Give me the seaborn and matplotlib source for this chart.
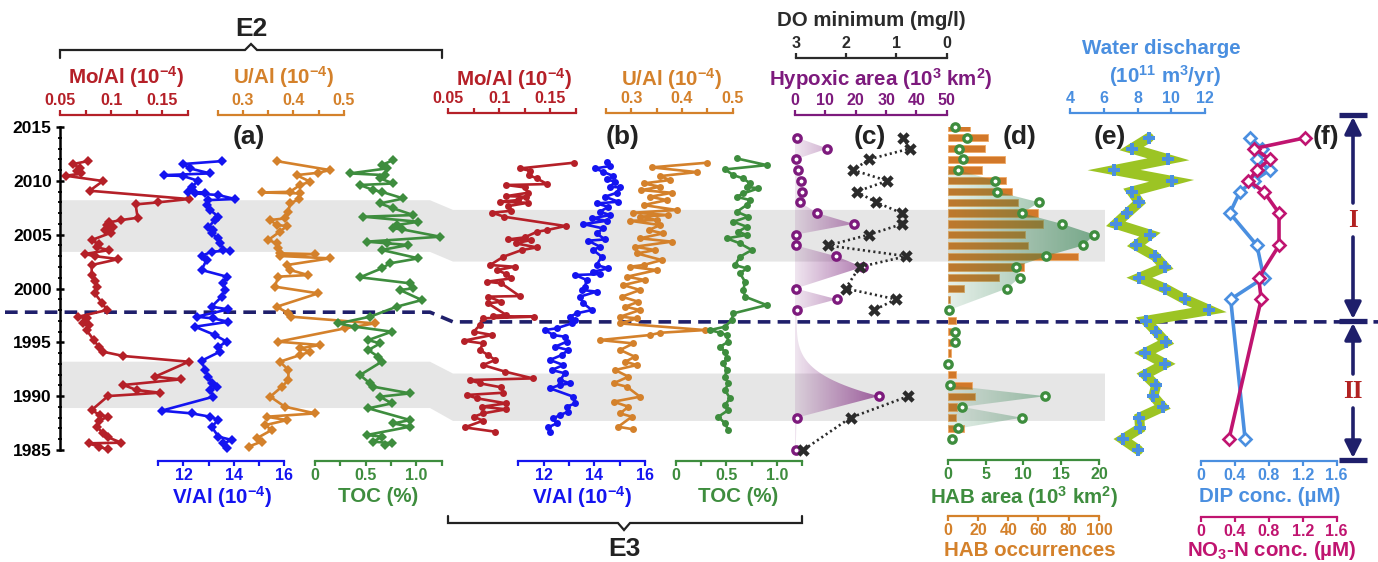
import numpy as np
import matplotlib
matplotlib.use("Agg")
import matplotlib.pyplot as plt
import seaborn as sns
from matplotlib.patches import Polygon
from matplotlib.colors import LinearSegmentedColormap

# ======================= DATA =======================
# Panel (a), core E2: (year, value)
mo_a = [(2011.83, 0.077), (2011.56, 0.063), (2011.15, 0.070), (2010.90, 0.067), (2010.69, 0.071),
        (2010.47, 0.056), (2009.98, 0.092), (2009.08, 0.079), (2008.31, 0.176), (2008.00, 0.146),
        (2007.81, 0.124), (2006.57, 0.126), (2006.36, 0.110), (2006.14, 0.098), (2005.89, 0.096),
        (2005.68, 0.102), (2005.43, 0.094), (2005.18, 0.100), (2004.50, 0.081), (2004.13, 0.088),
        (2003.82, 0.086), (2003.57, 0.098), (2003.20, 0.074), (2003.01, 0.084), (2002.73, 0.107),
        (2002.18, 0.081), (2001.25, 0.081), (2000.69, 0.084), (2000.17, 0.086), (1999.55, 0.084),
        (1998.68, 0.091), (1998.00, 0.096), (1997.38, 0.068), (1997.22, 0.076), (1996.76, 0.073),
        (1996.60, 0.078), (1996.14, 0.076), (1995.21, 0.083), (1994.59, 0.088), (1994.13, 0.092),
        (1993.73, 0.112), (1993.20, 0.176), (1991.81, 0.143), (1991.56, 0.168), (1991.04, 0.112),
        (1990.57, 0.125), (1990.32, 0.148), (1990.01, 0.097), (1988.71, 0.081), (1988.25, 0.089),
        (1988.09, 0.097), (1987.72, 0.088), (1987.17, 0.086), (1986.55, 0.092), (1986.18, 0.097),
        (1985.68, 0.110), (1985.62, 0.078), (1985.31, 0.088), (1985.06, 0.097)]
v_a = [(2011.83, 13.52), (2011.56, 11.99), (2011.15, 12.26), (2010.69, 13.06), (2010.53, 11.24),
       (2010.44, 11.99), (2010.00, 12.59), (2009.45, 12.33), (2008.98, 12.19), (2008.89, 12.86),
       (2008.83, 12.46), (2008.68, 13.39), (2008.31, 14.05), (2008.21, 12.99), (2007.75, 12.92),
       (2007.29, 13.06), (2006.67, 13.39), (2006.36, 13.25), (2005.68, 12.99), (2005.43, 13.19),
       (2005.12, 13.12), (2004.66, 13.39), (2004.20, 13.45), (2003.62, 13.59), (2003.52, 13.85),
       (2003.42, 13.12), (2003.02, 12.72), (2002.65, 12.92), (2001.72, 12.72), (2001.10, 13.72),
       (2000.48, 13.59), (1999.86, 13.65), (1999.24, 13.52), (1998.31, 13.12), (1998.06, 13.78),
       (1997.38, 12.52), (1997.22, 13.19), (1996.91, 13.78), (1996.45, 12.46), (1995.68, 13.25),
       (1995.06, 13.72), (1994.59, 13.39), (1994.13, 13.45), (1993.29, 12.72), (1992.43, 12.86),
       (1991.81, 12.99), (1991.19, 13.12), (1990.88, 13.32), (1990.57, 13.06), (1989.95, 13.19),
       (1988.65, 11.13), (1988.40, 12.33), (1988.09, 13.06), (1987.78, 13.39), (1987.17, 13.12),
       (1986.24, 13.39), (1985.93, 13.92), (1985.62, 13.59), (1985.15, 13.72)]
u_a = [(2011.83, 0.367), (2011.00, 0.472), (2010.75, 0.449), (2010.53, 0.406), (2009.92, 0.433),
       (2009.61, 0.413), (2008.98, 0.393), (2008.92, 0.337), (2008.83, 0.413), (2008.27, 0.410),
       (2007.90, 0.393), (2007.13, 0.390), (2006.51, 0.383), (2006.36, 0.354), (2005.89, 0.367),
       (2005.80, 0.387), (2005.28, 0.373), (2004.50, 0.350), (2004.20, 0.367), (2003.73, 0.370),
       (2003.27, 0.373), (2003.20, 0.443), (2003.02, 0.373), (2002.80, 0.472), (2002.18, 0.387),
       (2001.72, 0.393), (2001.25, 0.429), (2001.10, 0.370), (2000.17, 0.363), (1999.55, 0.449),
       (1998.31, 0.367), (1997.69, 0.390), (1997.38, 0.396), (1996.76, 0.561), (1996.30, 0.502),
       (1995.06, 0.370), (1994.75, 0.452), (1994.44, 0.413), (1994.13, 0.433), (1993.82, 0.413),
       (1993.20, 0.373), (1992.43, 0.390), (1991.50, 0.390), (1990.88, 0.377), (1989.95, 0.354),
       (1989.02, 0.383), (1988.40, 0.443), (1988.09, 0.347), (1987.78, 0.387), (1987.31, 0.344),
       (1986.86, 0.357), (1986.08, 0.327), (1985.78, 0.337), (1985.31, 0.311)]
toc_a = [(2011.93, 0.773), (2011.47, 0.658), (2011.15, 0.707), (2010.69, 0.345), (2010.53, 0.691),
         (2010.22, 0.642), (2009.76, 0.773), (2009.61, 0.444), (2009.14, 0.576), (2008.98, 0.658),
         (2008.36, 0.872), (2007.90, 0.642), (2007.44, 0.773), (2006.82, 0.971), (2006.67, 0.477),
         (2006.20, 1.020), (2005.89, 0.806), (2005.58, 0.773), (2005.50, 0.856), (2004.81, 1.234),
         (2004.35, 0.510), (2004.20, 0.707), (2004.04, 0.921), (2003.58, 0.658), (2002.80, 1.020),
         (2002.34, 0.740), (2001.87, 0.658), (2001.04, 0.444), (2000.48, 0.938), (2000.02, 0.971),
         (1999.86, 0.839), (1998.93, 1.053), (1998.31, 0.806), (1997.38, 0.543), (1996.76, 0.230),
         (1996.45, 0.395), (1995.99, 0.757), (1995.21, 0.526), (1994.90, 0.642), (1994.28, 0.526),
         (1993.66, 0.625), (1993.20, 0.658), (1991.96, 0.444), (1991.19, 0.543), (1990.88, 0.576),
         (1990.26, 0.938), (1989.95, 0.642), (1989.33, 0.757), (1988.87, 0.526), (1987.78, 0.938),
         (1987.47, 0.773), (1987.17, 0.938), (1986.39, 0.510), (1986.24, 0.658), (1985.78, 0.576),
         (1985.62, 0.757), (1985.47, 0.691)]

# Panel (b), core E3 (placed on the same vertical scale)
mo_b = [(2011.68, 0.173), (2011.15, 0.120), (2010.94, 0.130), (2010.53, 0.129), (2010.22, 0.137),
        (2009.70, 0.147), (2009.61, 0.107), (2009.39, 0.125), (2008.89, 0.128), (2008.58, 0.107),
        (2008.52, 0.126), (2008.21, 0.118), (2008.06, 0.101), (2007.96, 0.128), (2007.66, 0.109),
        (2007.22, 0.112), (2007.04, 0.093), (2006.66, 0.105), (2005.80, 0.165), (2005.43, 0.147),
        (2005.27, 0.137), (2004.75, 0.125), (2004.56, 0.109), (2004.50, 0.131), (2004.19, 0.116),
        (2003.82, 0.137), (2003.57, 0.122), (2002.95, 0.104), (2002.18, 0.091), (2002.02, 0.115),
        (2001.71, 0.098), (2001.34, 0.107), (2000.94, 0.112), (2000.63, 0.088), (2000.48, 0.102),
        (1999.30, 0.120), (1999.24, 0.089), (1998.77, 0.102), (1998.62, 0.089), (1997.53, 0.107),
        (1997.44, 0.094), (1997.38, 0.134), (1997.23, 0.084), (1996.61, 0.081), (1995.99, 0.075),
        (1995.68, 0.093), (1995.15, 0.065), (1994.90, 0.084), (1994.29, 0.081), (1993.82, 0.089),
        (1993.36, 0.096), (1992.89, 0.084), (1992.27, 0.106), (1991.65, 0.133), (1991.50, 0.071),
        (1991.19, 0.081), (1990.82, 0.102), (1990.32, 0.104), (1990.11, 0.068), (1989.80, 0.078),
        (1989.33, 0.107), (1989.02, 0.083), (1988.78, 0.107), (1988.40, 0.084), (1988.09, 0.075),
        (1987.72, 0.084), (1987.10, 0.066), (1986.70, 0.096)]
v_b = [(2011.77, 14.49), (2011.37, 14.62), (2011.15, 14.03), (2010.84, 14.35), (2010.44, 14.75),
       (2010.13, 14.49), (2009.92, 14.82), (2009.45, 14.62), (2009.39, 15.01), (2008.89, 14.88),
       (2008.52, 14.42), (2008.06, 14.95), (2007.90, 14.09), (2007.59, 14.55), (2007.13, 14.22),
       (2006.82, 14.62), (2006.51, 13.90), (2006.29, 14.49), (2005.98, 13.57), (2005.58, 14.35),
       (2005.12, 14.09), (2004.56, 14.42), (2004.44, 13.76), (2003.88, 14.22), (2003.57, 13.96),
       (2002.95, 14.29), (2002.18, 14.09), (2001.87, 14.55), (2001.56, 13.96), (2001.34, 14.22),
       (2001.25, 13.24), (2000.79, 13.70), (2000.17, 13.63), (1999.86, 13.50), (1999.71, 14.09),
       (1999.24, 13.43), (1998.62, 13.57), (1998.00, 13.90), (1997.69, 13.30), (1997.38, 13.04),
       (1997.07, 13.24), (1996.76, 13.11), (1996.30, 12.51), (1996.14, 12.05), (1995.68, 12.38),
       (1995.52, 12.84), (1995.06, 12.91), (1994.59, 12.45), (1994.29, 12.97), (1993.82, 12.71),
       (1993.36, 12.25), (1992.89, 12.78), (1992.43, 12.32), (1992.12, 12.84), (1991.50, 12.65),
       (1991.19, 13.04), (1991.04, 12.65), (1990.73, 12.25), (1989.95, 13.17), (1989.33, 13.24),
       (1989.02, 12.91), (1988.56, 12.97), (1988.25, 12.65), (1987.94, 12.38), (1987.47, 12.51),
       (1987.10, 12.18), (1986.70, 12.25)]
u_b = [(2011.68, 0.449), (2011.25, 0.340), (2010.81, 0.429), (2010.44, 0.357), (2010.07, 0.376),
       (2009.76, 0.324), (2009.45, 0.357), (2009.14, 0.320), (2008.89, 0.380), (2008.52, 0.337),
       (2008.21, 0.370), (2007.75, 0.324), (2007.29, 0.390), (2007.04, 0.304), (2006.82, 0.373),
       (2006.67, 0.317), (2006.36, 0.350), (2006.29, 0.297), (2005.89, 0.357), (2005.43, 0.334),
       (2005.12, 0.363), (2004.66, 0.317), (2004.35, 0.380), (2003.88, 0.307), (2003.57, 0.347),
       (2003.26, 0.311), (2002.64, 0.360), (2002.18, 0.324), (2002.02, 0.297), (2001.71, 0.350),
       (2001.09, 0.291), (2000.79, 0.327), (2000.32, 0.284), (1999.86, 0.317), (1999.24, 0.281),
       (1998.77, 0.314), (1998.31, 0.288), (1998.00, 0.317), (1997.38, 0.278), (1997.23, 0.311),
       (1996.76, 0.278), (1996.14, 0.445), (1995.89, 0.357), (1995.68, 0.337), (1995.21, 0.238),
       (1994.90, 0.304), (1994.29, 0.278), (1993.66, 0.307), (1993.20, 0.288), (1992.89, 0.311),
       (1992.43, 0.268), (1991.81, 0.294), (1991.19, 0.265), (1990.88, 0.291), (1989.95, 0.317),
       (1989.49, 0.265), (1989.02, 0.294), (1988.40, 0.278), (1988.09, 0.301), (1987.16, 0.274),
       (1986.92, 0.304)]
toc_b = [(2012.08, 0.602), (2011.46, 0.900), (2011.06, 0.486), (2010.53, 0.569), (2010.22, 0.668),
         (2009.76, 0.734), (2009.45, 0.701), (2009.30, 0.817), (2008.83, 0.668), (2008.52, 0.602),
         (2008.21, 0.734), (2007.75, 0.701), (2007.13, 0.602), (2006.67, 0.718), (2006.20, 0.569),
         (2005.74, 0.701), (2005.28, 0.618), (2004.97, 0.701), (2004.66, 0.503), (2004.19, 0.635),
         (2003.57, 0.751), (2002.95, 0.635), (2002.18, 0.585), (2001.87, 0.701), (2001.40, 0.635),
         (2000.63, 0.685), (1999.86, 0.668), (1999.24, 0.685), (1998.46, 0.900), (1997.69, 0.569),
         (1997.07, 0.552), (1996.45, 0.486), (1996.14, 0.337), (1995.89, 0.437), (1995.68, 0.503),
         (1995.06, 0.519), (1994.59, 0.437), (1994.13, 0.486), (1993.51, 0.503), (1993.05, 0.470),
         (1992.43, 0.503), (1991.81, 0.486), (1991.19, 0.519), (1990.57, 0.486), (1989.80, 0.536),
         (1989.18, 0.486), (1988.71, 0.519), (1988.09, 0.420), (1987.47, 0.486), (1986.85, 0.519)]

# Panel (c): hypoxic area (10^3 km2) and DO minimum (mg/l)
hyp_years = [2014, 2013, 2012, 2011, 2010, 2009, 2008, 2007, 2006, 2005, 2004, 2003, 2002, 2000,
             1999, 1998, 1990, 1988, 1985]
hyp_area = [0.8, 10.7, 0.2, 0.9, 2.0, 2.2, 1.7, 7.4, 19.3, 0.2, 0.3, 13.5, 22.3, 0.2,
            13.8, 0.55, 27.6, 0.55, 0.2]
do_min = [0.87, 0.73, 1.54, 1.86, 1.18, 1.79, 1.40, 0.89, 0.88, 1.54, 2.36, 0.80, 1.73, 2.01,
          1.01, 1.44, 0.76, 1.91, 2.85]

# Panel (d): HAB area (10^3 km2) and HAB occurrences
hab_years = list(range(2015, 1985, -1))
hab_area = [1.0, 2.5, 1.5, 2.0, 1.4, 6.3, 6.5, 12.1, 9.8, 15.1, 19.4, 17.9, 13.0, 9.0, 9.5, 7.8,
            np.nan, 0.2, np.nan, 1.0, 0.9, np.nan, 0.1, np.nan, 0.35, 12.9, 1.9, 9.8, 1.4, 0.6]
hab_occ = [14.6, 26.7, 24.7, 37.8, 22.7, 38.6, 42.8, 46.6, 59.8, 62.7, 50.8, 52.8, 85.9, 50.7, 33.8,
           10.7, 1.5, np.nan, 5.7, 2.4, 2.4, 2.0, np.nan, 5.7, 15.9, 17.9, 6.2, 5.7, 10.6, np.nan]
hab_fill_periods = [(1998, 2011), (1987, 1991)]

# Panel (e): water discharge (10^11 m3/yr)
wd_years = list(range(2014, 1984, -1))
water = [8.68, 7.65, 9.83, 6.61, 10.02, 7.65, 8.11, 7.40, 6.71, 8.74, 7.91, 9.04, 9.63, 8.11, 9.63,
         10.81, 12.26, 8.50, 9.10, 9.69, 8.44, 9.63, 8.44, 9.10, 8.94, 9.49, 8.11, 8.15, 7.12, 8.05]

# Panel (f): DIP and NO3-N concentrations (uM)
nut_years = [2014, 2013, 2012, 2011, 2010, 2009, 2007, 2004, 2001, 1999, 1986]
dip = [0.58, 0.72, 0.66, 0.81, 0.62, 0.46, 0.34, 0.66, 0.74, 0.35, 0.52]
no3 = [1.23, 0.63, 0.81, 0.66, 0.56, 0.74, 0.92, 0.92, 0.68, 0.71, 0.33]

# shaded intervals and boundary (years), for E2 and for E3/(c)-(f)
bands_e2 = [(2003.4, 2008.2), (1988.9, 1993.2)]
bands_e3 = [(2002.5, 2007.3), (1987.7, 1992.1)]
boundary_e2, boundary_e3 = 1997.8, 1996.9

# ======================= STYLE =======================
sns.set_style("white")
plt.rcParams["font.family"] = ["Liberation Sans", "DejaVu Sans"]
plt.rcParams["font.weight"] = "bold"
plt.rcParams["mathtext.fontset"] = "custom"
plt.rcParams["mathtext.rm"] = "Liberation Sans:bold"
plt.rcParams["mathtext.it"] = "Liberation Sans:bold"
plt.rcParams["mathtext.bf"] = "Liberation Sans:bold"

RED, BLUE, ORANGE, GREEN = "#b52028", "#1414f0", "#d4812b", "#3e8d3e"
PURPLE, DARK, BAR = "#7d1a7d", "#2b2b2b", "#d2782a"
WLINE, LBLUE, MAG, NAVY = "#9cc424", "#4a8fe0", "#c01470", "#1f1f6b"

W, H = 1378, 562
Y_TOP, Y_BOT = 127, 450
fig = plt.figure(figsize=(W / 100, H / 100), dpi=100)


def fx(x):
    return x / W


def fy(y):
    return 1 - y / H


def ftext(x, y, s, **kw):
    kw.setdefault("ha", "center")
    kw.setdefault("va", "center")
    fig.text(fx(x), fy(y), s, **kw)


# background canvas (pixel coords) and a year-coordinate canvas
bg = fig.add_axes([0, 0, 1, 1])
bg.set_xlim(0, W)
bg.set_ylim(H, 0)
bg.axis("off")
yr = fig.add_axes([0, fy(Y_BOT), 1, (Y_BOT - Y_TOP) / H])
yr.set_xlim(0, W)
yr.set_ylim(1985, 2015)
yr.axis("off")

for (lo_a, hi_a), (lo_b, hi_b) in zip(bands_e2, bands_e3):
    yr.add_patch(Polygon([(60, hi_a), (430, hi_a), (453, hi_b), (1105, hi_b), (1105, lo_b),
                          (453, lo_b), (430, lo_a), (60, lo_a)], closed=True,
                         fc="#e6e6e6", ec="none", clip_on=False, zorder=0))
yr.plot([5, 430, 453, W], [boundary_e2, boundary_e2, boundary_e3, boundary_e3], color=NAVY,
        lw=2.6, dashes=(3.5, 2.0), clip_on=False, zorder=1)


def panel_ax(x0, x1, xlim):
    ax = fig.add_axes([fx(x0), fy(Y_BOT), (x1 - x0) / W, (Y_BOT - Y_TOP) / H])
    ax.patch.set_alpha(0)
    for s in ax.spines.values():
        s.set_visible(False)
    ax.tick_params(left=False, labelleft=False, right=False, labelright=False,
                   bottom=False, labelbottom=False, top=False, labeltop=False)
    ax.set_xlim(*xlim)
    ax.set_ylim(1985, 2015)
    return ax


def scale(ax, side, off_px, color, major, labels, minor=None, xlim=None, size=11.5):
    sp = ax.spines[side]
    sp.set_visible(True)
    sp.set_color(color)
    sp.set_linewidth(1.6)
    sp.set_position(("outward", off_px * 0.72))
    ax.set_xticks(major)
    ax.set_xticklabels(labels)
    if minor is not None:
        ax.set_xticks(minor, minor=True)
    other = "bottom" if side == "top" else "top"
    ax.tick_params(axis="x", which="both", direction="out", length=3.6, width=1.6, color=color,
                   labelcolor=color, labelsize=size, pad=1.5,
                   **{side: True, "label" + side: True, other: False, "label" + other: False})
    if xlim is not None:
        ax.set_xlim(*xlim)
    ax.set_xlabel("")
    ax.set_ylabel("")


def line(ax, data, color, marker, ms, lw=1.9):
    arr = np.array(data, dtype=float)
    sns.lineplot(x=arr[:, 1], y=arr[:, 0], ax=ax, sort=False, estimator=None, orient="y",
                 color=color, lw=lw, marker=marker, markersize=ms, markerfacecolor=color,
                 markeredgecolor=color, markeredgewidth=0.0, clip_on=False)


# ---------------- panel (a) ----------------
ax = panel_ax(60, 187.7, (0.05, 0.175))
line(ax, mo_a, RED, "D", 5.6)
scale(ax, "top", 12, RED, [0.05, 0.1, 0.15], ["0.05", "0.1", "0.15"], [0.075, 0.125, 0.175],
      (0.05, 0.175))
ax.spines["left"].set_visible(True)
ax.spines["left"].set_color("black")
ax.spines["left"].set_linewidth(1.8)
ax.set_yticks(range(1985, 2016, 5))
ax.set_yticks(range(1985, 2016), minor=True)
ax.tick_params(axis="y", which="major", left=True, labelleft=True, direction="inout", length=6,
               width=1.8, labelsize=12.5, pad=3, colors="black")
ax.tick_params(axis="y", which="minor", left=True, direction="inout", length=3.5, width=1.3,
               colors="black")
ax.set_ylim(1985, 2015)

ax = panel_ax(217.7, 344, (0.25, 0.5))
line(ax, u_a, ORANGE, "D", 5.6)
scale(ax, "top", 12, ORANGE, [0.3, 0.4, 0.5], ["0.3", "0.4", "0.5"], [0.25, 0.35, 0.45],
      (0.25, 0.5))

ax = panel_ax(158.3, 284, (11, 16))
line(ax, v_a, BLUE, "D", 5.6)
scale(ax, "bottom", 10.7, BLUE, [12, 14, 16], ["12", "14", "16"], [11, 13, 15], (11, 16))

ax = panel_ax(315, 441.7, (0, 1.25))
line(ax, toc_a, GREEN, "D", 5.6)
scale(ax, "bottom", 10.7, GREEN, [0, 0.5, 1.0], ["0", "0.5", "1.0"], [0.25, 0.75, 1.25], (0, 1.25))

# ---------------- panel (b) ----------------
ax = panel_ax(448.3, 575.7, (0.05, 0.175))
line(ax, mo_b, RED, "o", 5.0)
scale(ax, "top", 13.7, RED, [0.05, 0.1, 0.15], ["0.05", "0.1", "0.15"], [0.075, 0.125, 0.175],
      (0.05, 0.175))

ax = panel_ax(606, 732.7, (0.25, 0.5))
line(ax, u_b, ORANGE, "o", 5.0)
scale(ax, "top", 13.7, ORANGE, [0.3, 0.4, 0.5], ["0.3", "0.4", "0.5"], [0.25, 0.35, 0.45],
      (0.25, 0.5))

ax = panel_ax(518.3, 645, (11, 16))
line(ax, v_b, BLUE, "o", 5.0)
scale(ax, "bottom", 10.7, BLUE, [12, 14, 16], ["12", "14", "16"], [11, 13, 15], (11, 16))

ax = panel_ax(676, 802, (0, 1.25))
line(ax, toc_b, GREEN, "o", 5.0)
scale(ax, "bottom", 10.7, GREEN, [0, 0.5, 1.0], ["0", "0.5", "1.0"], [0.25, 0.75, 1.25], (0, 1.25))


def gradient_fill(ax, ys, xs, rgb, a0, a1, x_end, zorder=1):
    verts = [(0, ys[0])] + list(zip(xs, ys)) + [(0, ys[-1])]
    clip = Polygon(verts, closed=True, transform=ax.transData, fc="none", ec="none")
    ax.add_patch(clip)
    cmap = LinearSegmentedColormap.from_list("g", [(*rgb, a0), (*rgb, a1)])
    grad = np.linspace(0, 1, 256)[None, :]
    xl, yl = ax.get_xlim(), ax.get_ylim()
    im = ax.imshow(grad, extent=[0, x_end, min(ys) - 1, max(ys) + 1], aspect="auto", cmap=cmap,
                   origin="lower", zorder=zorder, interpolation="bilinear")
    im.set_clip_path(clip)
    ax.set_xlim(*xl)
    ax.set_ylim(*yl)


def fill_profile(years, vals, gap=4, n=40):
    ys, xs = [years[0]], [vals[0]]
    for i in range(1, len(years)):
        y0, y1, v0, v1 = years[i - 1], years[i], vals[i - 1], vals[i]
        if abs(y1 - y0) > gap:   # long gap: smooth flaring edge as drawn in the figure
            t = np.linspace(0, 1, n)[1:]
            ys.extend(y0 + (y1 - y0) * t)
            xs.extend(v0 + (v1 - v0) * t ** 4)
        else:
            ys.append(y1)
            xs.append(v1)
    return np.array(ys, float), np.array(xs, float)


# ---------------- panel (c) ----------------
ax_h = panel_ax(795, 946.7, (0, 50))
ys_f, xs_f = fill_profile(hyp_years, hyp_area)
gradient_fill(ax_h, ys_f, xs_f, (0.50, 0.16, 0.50), 0.12, 0.78, 30)
sns.scatterplot(x=hyp_area, y=hyp_years, ax=ax_h, marker="o", s=28, color="white",
                edgecolor=PURPLE, linewidth=2.4, zorder=3, clip_on=False)
scale(ax_h, "top", 12, PURPLE, [0, 10, 20, 30, 40, 50], ["0", "10", "20", "30", "40", "50"],
      xlim=(0, 50))

ax_d = panel_ax(795.7, 946.7, (3, 0))
seg = np.concatenate([[0], np.cumsum(np.abs(np.diff(hyp_years)) > 4)])
sns.lineplot(x=do_min, y=hyp_years, units=seg, estimator=None, sort=False, orient="y", ax=ax_d,
             color=DARK, lw=1.9, linestyle=(0, (0.8, 1.2)), clip_on=False)
sns.scatterplot(x=do_min, y=hyp_years, ax=ax_d, marker="X", s=80, color=DARK, linewidth=0,
                zorder=4, clip_on=False)
scale(ax_d, "top", 68.7, DARK, [3, 2, 1, 0], ["3", "2", "1", "0"], xlim=(3, 0))

# ---------------- panel (d) ----------------
ax_o = panel_ax(947.7, 1099, (0, 100))
occ = np.array(hab_occ, float)
hy = np.array(hab_years, float)
ok = ~np.isnan(occ)
ax_o.barh(hy[ok], occ[ok], height=0.68, color=BAR, edgecolor="#eeaa66", linewidth=0.6, zorder=2)
scale(ax_o, "bottom", 66, ORANGE, [0, 20, 40, 60, 80, 100], ["0", "20", "40", "60", "80", "100"],
      xlim=(0, 100))

ax_a = panel_ax(947.7, 1099, (0, 20))
area = np.array(hab_area, float)
for lo, hi in hab_fill_periods:
    m = (hy >= lo) & (hy <= hi) & ~np.isnan(area)
    gradient_fill(ax_a, hy[m], area[m], (0.18, 0.50, 0.30), 0.12, 0.62, 20)
sns.scatterplot(x=area, y=hy, ax=ax_a, marker="o", s=28, color="white", edgecolor=GREEN,
                linewidth=2.4, zorder=4, clip_on=False)
scale(ax_a, "bottom", 10, GREEN, [0, 5, 10, 15, 20], ["0", "5", "10", "15", "20"], xlim=(0, 20))

# ---------------- panel (e) ----------------
ax_w = panel_ax(1070, 1205, (4, 12))
sns.lineplot(x=water, y=wd_years, ax=ax_w, sort=False, estimator=None, orient="y", color=WLINE,
             lw=7.2, solid_joinstyle="miter", clip_on=False)
sns.scatterplot(x=water, y=wd_years, ax=ax_w, marker="P", s=75, color=LBLUE, linewidth=0,
                zorder=4, clip_on=False)
scale(ax_w, "top", 13.7, LBLUE, [4, 6, 8, 10, 12], ["4", "6", "8", "10", "12"], xlim=(4, 12))

# ---------------- panel (f) ----------------
ax_p = panel_ax(1201, 1336.7, (0, 1.6))
sns.lineplot(x=dip, y=nut_years, ax=ax_p, sort=False, estimator=None, orient="y", color=LBLUE,
             lw=2.6, marker="D", markersize=6, markerfacecolor="white", markeredgecolor=LBLUE,
             markeredgewidth=1.9, clip_on=False, zorder=3)
scale(ax_p, "bottom", 10.7, LBLUE, [0, 0.4, 0.8, 1.2, 1.6], ["0", "0.4", "0.8", "1.2", "1.6"],
      xlim=(0, 1.6))
ax_n = panel_ax(1201, 1336.7, (0, 1.6))
sns.lineplot(x=no3, y=nut_years, ax=ax_n, sort=False, estimator=None, orient="y", color=MAG,
             lw=2.6, marker="D", markersize=6, markerfacecolor="white", markeredgecolor=MAG,
             markeredgewidth=1.9, clip_on=False, zorder=2)
scale(ax_n, "bottom", 66.7, MAG, [0, 0.4, 0.8, 1.2, 1.6], ["0", "0.4", "0.8", "1.2", "1.6"],
      xlim=(0, 1.6))

# ---------------- annotations (pixel canvas) ----------------
TS = 14.8
ftext(126, 77, r"Mo/Al (10$^{-4}$)", color=RED, fontsize=TS)
ftext(284, 77, r"U/Al (10$^{-4}$)", color=ORANGE, fontsize=TS)
ftext(222, 497, r"V/Al (10$^{-4}$)", color=BLUE, fontsize=TS)
ftext(378, 497, "TOC (%)", color=GREEN, fontsize=TS)
ftext(514, 79, r"Mo/Al (10$^{-4}$)", color=RED, fontsize=TS)
ftext(672, 79, r"U/Al (10$^{-4}$)", color=ORANGE, fontsize=TS)
ftext(582, 497, r"V/Al (10$^{-4}$)", color=BLUE, fontsize=TS)
ftext(738, 497, "TOC (%)", color=GREEN, fontsize=TS)
ftext(871, 21, "DO minimum (mg/l)", color=DARK, fontsize=TS)
ftext(881, 79, r"Hypoxic area (10$^{3}$ km$^{2}$)", color=PURPLE, fontsize=TS)
ftext(1024, 497, r"HAB area (10$^{3}$ km$^{2}$)", color=GREEN, fontsize=TS)
ftext(1030, 551, "HAB occurrences", color=ORANGE, fontsize=TS)
ftext(1161, 48, "Water discharge", color=LBLUE, fontsize=TS)
ftext(1165, 76, r"(10$^{11}$ m$^{3}$/yr)", color=LBLUE, fontsize=TS)
ftext(1270, 496, "DIP conc. (\u00b5M)", color=LBLUE, fontsize=TS)
ftext(1272, 550, "NO$_{3}$-N conc. (\u00b5M)", color=MAG, fontsize=TS)

for lab, x in [("(a)", 249), ("(b)", 623), ("(c)", 870), ("(d)", 1020), ("(e)", 1110), ("(f)", 1326)]:
    ftext(x, 137, lab, color="#222222", fontsize=19)

# E2 / E3 brackets
bg.plot([60, 60, 245, 251, 257, 442, 442], [58, 50, 50, 44, 50, 50, 58], color="#222222", lw=1.6,
        solid_joinstyle="miter")
ftext(251, 29, "E2", color="#222222", fontsize=19)
bg.plot([448, 448, 618, 624, 630, 802, 802], [516, 523, 523, 530, 523, 523, 516], color="#222222",
        lw=1.6, solid_joinstyle="miter")
ftext(624, 549, "E3", color="#222222", fontsize=19)

# periods I / II on the right
XA = 1353
for yc in (115, 321, 460):
    bg.plot([1339, 1367], [yc, yc], color=NAVY, lw=3.8, solid_capstyle="butt")
for y_from, y_to in [(203, 117), (237, 319), (374, 323), (408, 458)]:
    bg.annotate("", xy=(XA, y_to), xytext=(XA, y_from),
                arrowprops=dict(arrowstyle="-|>,head_length=1.0,head_width=0.5", color=NAVY,
                                lw=2.6, shrinkA=0, shrinkB=0))
ftext(XA, 220, "I", color="#b22222", fontsize=18, family="Liberation Serif")
ftext(XA, 391, "II", color="#b22222", fontsize=18, family="Liberation Serif")

fig.savefig("out.png", dpi=100)
